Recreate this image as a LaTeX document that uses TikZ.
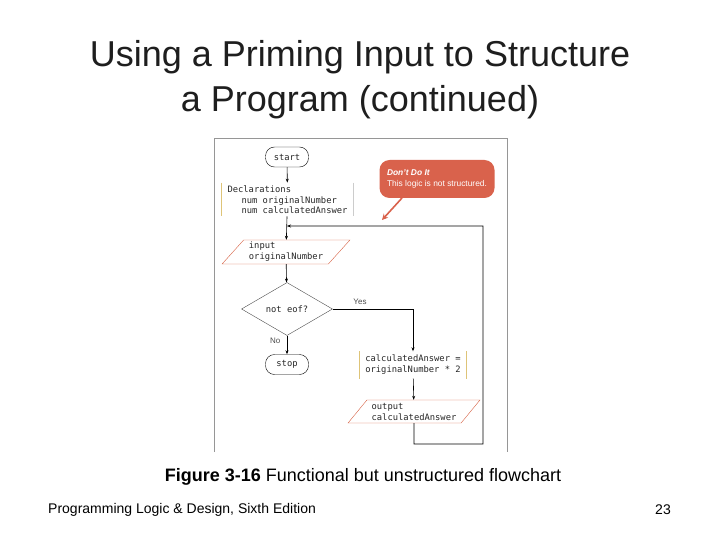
\documentclass[tikz,border=0pt]{standalone}
\usepackage{fontspec}
\setmainfont{Liberation Sans}
\setmonofont{DejaVu Sans Mono}
\usepackage{tikz}
\usetikzlibrary{positioning,calc,arrows.meta,shapes.geometric}
\definecolor{calloutred}{RGB}{217,98,76}
\definecolor{ioorange}{RGB}{214,96,66}
\definecolor{notetan}{RGB}{222,196,120}
\definecolor{framegray}{RGB}{150,150,150}
\definecolor{titlegray}{RGB}{30,30,30}

\begin{document}
\begin{tikzpicture}[
    x=1pt, y=-1pt,
    code/.style={font=\ttfamily\fontsize{8.8}{11}\selectfont, text=black!85},
    term/.style={code, rectangle, draw, rounded corners=9pt, minimum width=43pt, minimum height=20pt, inner sep=1pt},
    note/.style={code, rectangle, align=left, inner sep=3pt},
    io/.style={code, trapezium, trapezium left angle=48, trapezium right angle=132, trapezium stretches=true, draw=ioorange, align=left, inner sep=1pt},
    dec/.style={code, diamond, draw=black!70, minimum width=91pt, minimum height=53pt, inner sep=0pt},
    flow/.style={-{Stealth[length=4pt, width=3pt]}, semithick},
    lbl/.style={font=\fontsize{8}{9}\selectfont, text=black!70}
]
    \useasboundingbox (0,0) rectangle (720,540);

    % slide text
    \node[text=titlegray, font=\fontsize{36}{45}\selectfont, align=center] (title) at (360,80)
        {Using a Priming Input to Structure\\a Program (continued)};
    \node[font=\fontsize{18}{21}\selectfont] (caption) at (363,477)
        {\textbf{Figure 3-16} Functional but unstructured flowchart};
    \node[font=\fontsize{14}{17}\selectfont, anchor=west, inner sep=0pt] (footer) at (48,510)
        {Programming Logic \& Design, Sixth Edition};
    \node[font=\fontsize{14}{17}\selectfont, anchor=east, inner sep=0pt] (page) at (671,510) {23};

    % figure frame
    \draw[framegray, thick] (214,452) -- (214,138) -- (507,138) -- (507,452);

    % flowchart
    \node[term] (start) at (287,157) {start};
    \node[note, minimum width=131pt, minimum height=30pt] (decl) at (287.5,199.5)
        {Declarations\\\hspace*{14pt}num originalNumber\\[-1.5pt]\hspace*{14pt}num calculatedAnswer};
    \node[io, minimum width=128pt, minimum height=24pt] (input) at (286,252)
        {input\\originalNumber};
    \node[dec] (test) at (287,309) {not eof?};
    \node[term] (stop) at (287,364.5) {stop};
    \node[note, minimum width=107pt, minimum height=27pt] (calc) at (413,365)
        {calculatedAnswer =\\originalNumber * 2};
    \node[io, minimum width=132pt, minimum height=23pt] (output) at (414,411.5)
        {output\\calculatedAnswer};

    \draw[notetan, thick] (decl.north west) -- (decl.south west);
    \draw[black!20, thick] (decl.north east) -- (decl.south east);
    \draw[notetan, thick] (calc.north west) -- (calc.south west);
    \draw[notetan, thick] (calc.north east) -- (calc.south east);

    \coordinate (join) at (287,226);
    \coordinate (loopbot) at (414,444);
    \coordinate (loopright) at (483,226);

    \draw[flow] (start) -- (decl);
    \draw[flow] (decl) -- (input);
    \draw[flow] (input) -- (test);
    \draw[flow] (test) -- (stop) node[lbl, pos=0.25, left=3pt] {No};
    \draw[flow] (test.east) -| (calc.north) node[lbl, pos=0.17, above=1pt] {Yes};
    \draw[flow] (calc) -- (output);
    \draw[flow] (output.south) -- (loopbot) -| (loopright) -- (join);

    % warning callout
    \node[fill=calloutred, rounded corners=10pt, minimum width=115pt, minimum height=38pt,
          text=white, align=left, inner sep=2pt, font=\fontsize{8.4}{10.5}\selectfont] (warn) at (437,179)
        {\textbf{\itshape Don't Do It}\\This logic is not structured.};
    \coordinate (warntip) at (382,220);
    \draw[calloutred, line width=1.6pt, -{Stealth[length=6pt, width=6pt]}] (402,198) -- (warntip);
\end{tikzpicture}
\end{document}
